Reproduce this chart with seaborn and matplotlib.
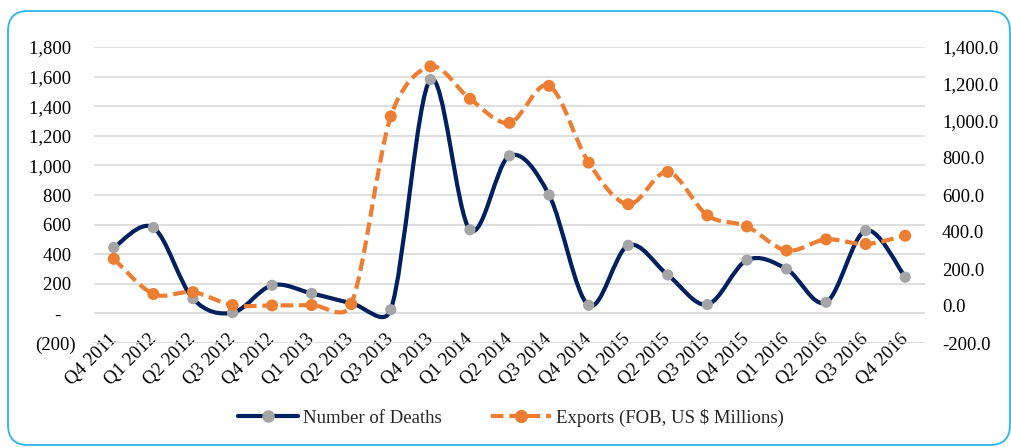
import numpy as np
import pandas as pd
import matplotlib
matplotlib.use('Agg')
import matplotlib.pyplot as plt
import matplotlib.ticker as mticker
import matplotlib.transforms as mtransforms
import seaborn as sns
from matplotlib.path import Path
from matplotlib.patches import PathPatch, FancyBboxPatch
from matplotlib.lines import Line2D

quarters = ['Q4 2011', 'Q1 2012', 'Q2 2012', 'Q3 2012', 'Q4 2012', 'Q1 2013', 'Q2 2013',
            'Q3 2013', 'Q4 2013', 'Q1 2014', 'Q2 2014', 'Q3 2014', 'Q4 2014', 'Q1 2015',
            'Q2 2015', 'Q3 2015', 'Q4 2015', 'Q1 2016', 'Q2 2016', 'Q3 2016', 'Q4 2016']
deaths = [445, 580, 100, 5, 190, 135, 70, 25, 1580, 565, 1065, 800, 55, 460, 260, 60,
          360, 300, 75, 560, 245]
exports = [255, 65, 75, 5, 3, 5, 10, 1025, 1295, 1120, 990, 1190, 775, 550, 725, 490,
           430, 300, 360, 335, 380]

df = pd.DataFrame({'Quarter': quarters, 'Deaths': deaths, 'Exports': exports})
df['pos'] = np.arange(len(df))

NAVY = '#002060'
GREY = '#A5A5A5'
ORANGE = '#ED7D31'
FS = 13.5

sns.set_theme(style='white')
plt.rcParams['font.family'] = ['Liberation Serif', 'DejaVu Serif']
plt.rcParams['font.size'] = FS


def smooth_path(a, xs, ys):
    # Excel-like smoothed line: Bezier segments, control arm capped at half the segment
    pts = np.column_stack([xs, ys]).astype(float)
    pix = a.transData.transform(pts)
    n = len(pts)
    verts = [pts[0]]
    codes = [Path.MOVETO]
    f = 1 / 6
    for i in range(n - 1):
        i0, i3 = max(i - 1, 0), min(i + 2, n - 1)
        d12 = np.hypot(*(pix[i + 1] - pix[i]))
        d02 = np.hypot(*(pix[i + 1] - pix[i0]))
        d13 = np.hypot(*(pix[i3] - pix[i]))
        f1 = f if d02 * f < d12 / 2 else d12 / 2 / d02
        f2 = f if d13 * f < d12 / 2 else d12 / 2 / d13
        c1 = pts[i] + (pts[i + 1] - pts[i0]) * f1
        c2 = pts[i + 1] - (pts[i3] - pts[i]) * f2
        verts += [c1, c2, pts[i + 1]]
        codes += [Path.CURVE4] * 3
    return Path(verts, codes)


fig = plt.figure(figsize=(10.12, 4.47), dpi=100)
ax = fig.add_axes([94 / 1012, 104 / 447, 831 / 1012, 296 / 447])
ax2 = ax.twinx()

ax.set_xlim(-0.5, len(df) - 0.5)
ax.set_ylim(-200, 1800)
ax2.set_ylim(-200, 1400)

# deaths on primary axis
ax.add_patch(PathPatch(smooth_path(ax, df['pos'], df['Deaths']), fill=False, edgecolor=NAVY,
                       lw=3.0, zorder=2, capstyle='butt'))
sns.scatterplot(data=df, x='pos', y='Deaths', ax=ax, color=GREY, s=65, edgecolor='none',
                zorder=3, legend=False)

# exports on secondary axis
ax2.add_patch(PathPatch(smooth_path(ax2, df['pos'], df['Exports']), fill=False,
                        edgecolor=ORANGE, lw=3.0, linestyle=(0, (3, 1.4)), zorder=2,
                        capstyle='butt'))
sns.scatterplot(data=df, x='pos', y='Exports', ax=ax2, color=ORANGE, s=75, edgecolor='none',
                zorder=3, legend=False)

ax.set_xlim(-0.5, len(df) - 0.5)
ax.set_ylim(-200, 1800)
ax2.set_ylim(-200, 1400)
ax.yaxis.set_major_locator(mticker.MultipleLocator(200))
ax2.yaxis.set_major_locator(mticker.MultipleLocator(200))


def left_fmt(v, _):
    if abs(v) < 1e-9:
        return '-   '
    if v < 0:
        return '({:,.0f})'.format(-v)
    return '{:,.0f} '.format(v)


ax.yaxis.set_major_formatter(mticker.FuncFormatter(left_fmt))
ax2.yaxis.set_major_formatter(mticker.FuncFormatter(lambda v, _: '{:,.1f}'.format(v)))

ax.set_xticks(df['pos'])
ax.set_xticklabels(df['Quarter'], rotation=45, ha='right', va='center',
                   rotation_mode='anchor')
shift = mtransforms.ScaledTranslation(4 / 100, 0, fig.dpi_scale_trans)
for lab in ax.get_xticklabels():
    lab.set_transform(lab.get_transform() + shift)

ax.grid(axis='y', color='#D9D9D9', lw=1.2)
ax.grid(axis='x', visible=False)
ax2.grid(False)
ax.set_xlabel('')
ax.set_ylabel('')
ax2.set_ylabel('')
for a in (ax, ax2):
    for s in a.spines.values():
        s.set_visible(False)
    a.tick_params(length=0, labelsize=FS, colors='black')
ax.tick_params(axis='y', pad=13.2)
ax2.tick_params(axis='y', pad=12.2)
ax.tick_params(axis='x', pad=-4.5)

handles = [
    Line2D([], [], color=NAVY, lw=3.0, marker='o', markersize=8, markerfacecolor=GREY,
           markeredgecolor=GREY),
    Line2D([], [], color=ORANGE, lw=3.0, linestyle=(0, (3, 1.4)), marker='o', markersize=8.5,
           markerfacecolor=ORANGE, markeredgecolor=ORANGE),
]
fig.legend(handles, ['Number of Deaths', 'Exports (FOB, US $ Millions)'], loc='center',
           bbox_to_anchor=(0.505, 1 - 418 / 447), ncol=2, frameon=False, fontsize=FS,
           handlelength=3.2, columnspacing=2.6, handletextpad=0.3)

fig.patches.append(FancyBboxPatch((0.08, 0.02), 10.02, 4.34,
                                  boxstyle='round,pad=0,rounding_size=0.2',
                                  transform=fig.dpi_scale_trans, fill=False,
                                  edgecolor='#29B6EE', lw=1.3, figure=fig))

fig.savefig('out.png', dpi=100)
